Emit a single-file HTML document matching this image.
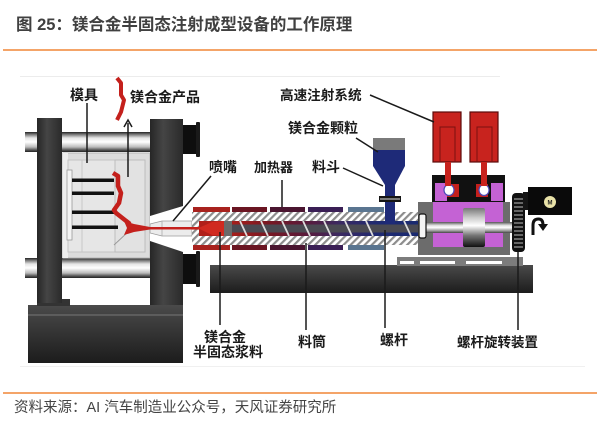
<!DOCTYPE html>
<html><head><meta charset="utf-8">
<style>
html,body{margin:0;padding:0;background:#fff;width:600px;height:426px;overflow:hidden}
svg{display:block}
text{font-family:"Liberation Sans","Noto Sans CJK SC",sans-serif}
.lb{font-size:14px;font-weight:bold;fill:#1a1a1a}
.ld{stroke:#1a1a1a;stroke-width:1.5;fill:none}
</style></head><body>
<svg width="600" height="426" viewBox="0 0 600 426" xmlns="http://www.w3.org/2000/svg">
<defs>
<pattern id="hatch" width="5" height="5" patternUnits="userSpaceOnUse" patternTransform="rotate(45)">
<rect width="5" height="5" fill="#fff"/><rect width="2.2" height="5" fill="#8c8c8c"/></pattern>
<linearGradient id="tie" x1="0" y1="0" x2="0" y2="1">
<stop offset="0" stop-color="#222"/><stop offset="0.12" stop-color="#777"/><stop offset="0.3" stop-color="#e6e6e6"/><stop offset="0.5" stop-color="#fff"/><stop offset="0.75" stop-color="#bbb"/><stop offset="0.9" stop-color="#555"/><stop offset="1" stop-color="#222"/></linearGradient>
<linearGradient id="base" x1="0" y1="0" x2="0" y2="1">
<stop offset="0" stop-color="#4a4a4a"/><stop offset="0.5" stop-color="#333"/><stop offset="1" stop-color="#1c1c1c"/></linearGradient>
<linearGradient id="plat" x1="0" y1="0" x2="1" y2="0">
<stop offset="0" stop-color="#262626"/><stop offset="0.4" stop-color="#454545"/><stop offset="1" stop-color="#2a2a2a"/></linearGradient>
<linearGradient id="shaft" x1="0" y1="0" x2="0" y2="1">
<stop offset="0" stop-color="#555"/><stop offset="0.3" stop-color="#ddd"/><stop offset="0.5" stop-color="#fff"/><stop offset="0.8" stop-color="#999"/><stop offset="1" stop-color="#444"/></linearGradient>
<linearGradient id="drum" x1="0" y1="0" x2="0" y2="1">
<stop offset="0" stop-color="#777"/><stop offset="0.25" stop-color="#ccc"/><stop offset="0.45" stop-color="#fff"/><stop offset="0.7" stop-color="#777"/><stop offset="1" stop-color="#111"/></linearGradient>
<linearGradient id="bore" gradientUnits="userSpaceOnUse" x1="224" y1="0" x2="418" y2="0">
<stop offset="0" stop-color="#b0201a"/><stop offset="0.22" stop-color="#7a1822"/><stop offset="0.42" stop-color="#5a1a3a"/><stop offset="0.6" stop-color="#3a2a62"/><stop offset="0.8" stop-color="#1e2a72"/><stop offset="1" stop-color="#1a2a70"/></linearGradient>
</defs>

<!-- title -->
<text x="16" y="30" font-size="16.5" font-weight="bold" fill="#404040">图 25：镁合金半固态注射成型设备的工作原理</text>
<rect x="3" y="49" width="594" height="2" fill="#f4a468"/>

<!-- faint frame lines -->
<line x1="20" y1="76.5" x2="500" y2="76.5" stroke="#ececec" stroke-width="1"/>
<line x1="20" y1="366.5" x2="585" y2="366.5" stroke="#f0f0f0" stroke-width="1"/>

<!-- right base & rails -->
<rect x="210" y="265" width="323" height="28" fill="url(#base)"/>
<rect x="397" y="257" width="126" height="9" fill="#7c7c7c"/>
<rect x="400" y="261" width="14" height="3" fill="#fff"/>
<rect x="420" y="261" width="35" height="3" fill="#fff"/>
<rect x="466" y="261" width="36" height="3" fill="#fff"/>

<!-- left machine base -->
<rect x="28" y="305" width="155" height="58" fill="url(#base)"/>
<line x1="28" y1="315" x2="183" y2="315" stroke="#777" stroke-width="1"/>
<rect x="37" y="299" width="33" height="7" fill="#333"/>

<!-- tie bars -->
<rect x="25" y="132" width="127" height="20" fill="url(#tie)"/>
<rect x="25" y="258" width="127" height="20" fill="url(#tie)"/>

<!-- mold -->
<rect x="63" y="153" width="87" height="105" fill="#dcdcdc" stroke="#b4b4b4"/>
<rect x="63" y="153" width="5" height="105" fill="#eeeeee"/>
<rect x="68" y="160" width="47" height="92" fill="#e6e6e6" stroke="#c4c4c4"/>
<rect x="115" y="160" width="30" height="92" fill="#e2e2e2" stroke="#bdbdbd"/>
<line x1="82" y1="160" x2="82" y2="252" stroke="#c8c8c8"/>
<line x1="114" y1="245" x2="128" y2="232" stroke="#999"/>
<rect x="67" y="170" width="5" height="70" fill="#f4f4f4" stroke="#999" stroke-width="0.8"/>
<rect x="72" y="178.5" width="42" height="3.5" fill="#111"/>
<rect x="72" y="191.5" width="42" height="3.5" fill="#111"/>
<rect x="72" y="210.5" width="42" height="3.5" fill="#111"/>
<rect x="72" y="225.5" width="46" height="3.5" fill="#111"/>
<!-- cavity part -->
<path d="M113 173 L118 176 L118 186 L121 193 L119 203 L114 210 L116 213 L130 224" stroke="#c4201c" stroke-width="4.5" fill="none" stroke-linejoin="round"/>
<polygon points="124,221 134,224 150,227 150,229.5 134,232 124,235 127,228" fill="#c4201c"/>
<!-- ejection arrow -->
<line x1="128" y1="177" x2="128" y2="123" class="ld"/>
<polyline points="124,127 128,120 132,127" class="ld"/>
<!-- product -->
<path d="M117 78 L121 83 L121 95 L124 100 L121 112 L117 120" stroke="#c4201c" stroke-width="4" fill="none" stroke-linejoin="round"/>

<!-- left platen -->
<rect x="37" y="118" width="25" height="185" fill="url(#plat)"/>

<!-- fixed platen -->
<rect x="150" y="119" width="33" height="186" fill="url(#plat)"/>
<polygon points="150,216 183,206 183,252 150,241" fill="#fff"/>
<polygon points="150,224 162,221 192,221 192,236 162,236 150,233" fill="#ececec" stroke="#9a9a9a" stroke-width="0.8"/>
<line x1="162" y1="221" x2="162" y2="236" stroke="#aaa" stroke-width="0.8"/>
<line x1="147" y1="228.3" x2="200" y2="228.3" stroke="#c4201c" stroke-width="2.5"/>
<!-- platen protrusions -->
<rect x="183" y="125" width="14" height="29" fill="#0e0e0e"/>
<rect x="196" y="122" width="4" height="35" rx="1" fill="#1a1a1a"/>
<rect x="183" y="254" width="14" height="30" fill="#0e0e0e"/>
<rect x="196" y="251" width="4" height="36" rx="1" fill="#1a1a1a"/>

<!-- barrel heaters -->
<g>
<rect x="193" y="207" width="37" height="5" fill="#a8221e"/><rect x="193" y="245" width="37" height="5" fill="#a8221e"/>
<rect x="232" y="207" width="35" height="5" fill="#6a1522"/><rect x="232" y="245" width="35" height="5" fill="#6a1522"/>
<rect x="270" y="207" width="35" height="5" fill="#4a1530"/><rect x="270" y="245" width="35" height="5" fill="#4a1530"/>
<rect x="308" y="207" width="35" height="5" fill="#3a1f55"/><rect x="308" y="245" width="35" height="5" fill="#3a1f55"/>
<rect x="348" y="207" width="36" height="5" fill="#5a7590"/><rect x="348" y="245" width="36" height="5" fill="#5a7590"/>
</g>
<!-- barrel body -->
<rect x="192" y="212" width="226" height="9" fill="url(#hatch)"/>
<rect x="192" y="236" width="226" height="9" fill="url(#hatch)"/>
<rect x="192" y="221" width="7" height="15" fill="url(#hatch)"/>
<rect x="199" y="221" width="219" height="15" fill="url(#bore)"/>
<rect x="192" y="227" width="8" height="2.6" fill="#c4201c"/>
<polygon points="198,228.3 212,222 224,221 224,236 212,235" fill="#d02a20"/>
<rect x="224" y="221" width="8" height="15" fill="#6a6a6a"/>
<rect x="232" y="224.5" width="186" height="8" fill="#4a4a52"/>
<g stroke="#dcdcdc" stroke-width="1.8">
<line x1="240" y1="221" x2="247" y2="236"/><line x1="261" y1="221" x2="268" y2="236"/>
<line x1="282" y1="221" x2="289" y2="236"/><line x1="303" y1="221" x2="310" y2="236"/>
<line x1="324" y1="221" x2="331" y2="236"/><line x1="345" y1="221" x2="352" y2="236"/>
<line x1="366" y1="221" x2="373" y2="236"/><line x1="404" y1="221" x2="411" y2="236"/>
</g>

<!-- hopper -->
<rect x="373" y="138" width="32" height="12" fill="#7a7a7a"/>
<polygon points="373,150 405,150 405,166 395,185 385,185 373,166" fill="#1e2a78"/>
<rect x="385" y="184" width="10" height="40" fill="#1e2a78"/>
<rect x="379" y="196" width="22" height="6" fill="#151515"/>
<line x1="380" y1="199" x2="400" y2="199" stroke="#ddd" stroke-width="1"/>

<!-- right unit frame -->
<rect x="418" y="202" width="92" height="53" fill="#6c6c6c"/>
<rect x="433" y="183" width="70" height="64" fill="#c462d4"/>
<rect x="432" y="175" width="73" height="27" fill="#111"/>
<rect x="435" y="183" width="12" height="18" fill="#c462d4"/>
<rect x="491" y="183" width="12" height="18" fill="#c462d4"/>
<rect x="447" y="184" width="12" height="13" fill="#c4201c"/>
<rect x="476" y="184" width="12" height="13" fill="#c4201c"/>
<ellipse cx="449" cy="190" rx="5" ry="5.5" fill="#fff" stroke="#4a4ab8" stroke-width="1.2"/>
<ellipse cx="484" cy="190" rx="5" ry="5.5" fill="#fff" stroke="#4a4ab8" stroke-width="1.2"/>
<!-- red cylinders -->
<rect x="433" y="112" width="28" height="50" fill="#c8231e" stroke="#5a0a0a" stroke-width="1.2"/>
<path d="M440 162 V127 H455 V162" stroke="#7a1010" stroke-width="1" fill="none"/>
<rect x="445" y="162" width="6" height="24" fill="#c8231e"/>
<rect x="470" y="112" width="28" height="50" fill="#c8231e" stroke="#5a0a0a" stroke-width="1.2"/>
<path d="M477 162 V127 H492 V162" stroke="#7a1010" stroke-width="1" fill="none"/>
<rect x="481" y="162" width="6" height="24" fill="#c8231e"/>
<!-- shaft & drum -->
<rect x="423" y="222" width="94" height="11" fill="url(#shaft)"/>
<rect x="463" y="208" width="22" height="39" rx="2" fill="url(#drum)"/>
<rect x="419" y="214" width="7" height="24" rx="2" fill="#f4f4f4" stroke="#111" stroke-width="1.2"/>
<!-- gear -->
<rect x="512" y="193" width="13" height="59" rx="4" fill="#111"/>
<g stroke="#bbb" stroke-width="1">
<line x1="514" y1="199" x2="523" y2="199"/><line x1="514" y1="203" x2="523" y2="203"/><line x1="514" y1="207" x2="523" y2="207"/>
<line x1="514" y1="211" x2="523" y2="211"/><line x1="514" y1="215" x2="523" y2="215"/><line x1="514" y1="219" x2="523" y2="219"/>
<line x1="514" y1="223" x2="523" y2="223"/><line x1="514" y1="227" x2="523" y2="227"/><line x1="514" y1="231" x2="523" y2="231"/>
<line x1="514" y1="235" x2="523" y2="235"/><line x1="514" y1="239" x2="523" y2="239"/><line x1="514" y1="243" x2="523" y2="243"/>
<line x1="514" y1="247" x2="523" y2="247"/>
</g>
<!-- motor -->
<rect x="523" y="192" width="7" height="18" fill="#151515"/>
<rect x="528" y="187" width="44" height="28" fill="#0a0a0a"/>
<circle cx="550" cy="202" r="6" fill="#e9e2a8"/>
<text x="547.5" y="204.5" font-size="6" font-weight="bold" fill="#222">M</text>
<!-- rotation arrow -->
<path d="M533 235 L533 225 Q533 219 538.5 219 Q543 219 543 225" stroke="#111" stroke-width="3" fill="none"/>
<polygon points="538,224 548,224 543,231" fill="#111"/>

<!-- leader lines -->
<line x1="87" y1="103" x2="87" y2="163" class="ld"/>
<line x1="211" y1="176" x2="173" y2="221" class="ld"/>
<line x1="282" y1="180" x2="282" y2="207" class="ld"/>
<line x1="343" y1="168" x2="383" y2="186" class="ld"/>
<line x1="356" y1="138" x2="378" y2="152" class="ld"/>
<line x1="370" y1="95" x2="434" y2="122" class="ld"/>
<line x1="220" y1="232" x2="220" y2="325" class="ld"/>
<line x1="306" y1="243" x2="306" y2="330" class="ld"/>
<line x1="385" y1="230" x2="385" y2="328" class="ld"/>
<line x1="518" y1="252" x2="518" y2="330" class="ld"/>

<!-- labels -->
<text x="70" y="100" class="lb">模具</text>
<text x="130" y="102" class="lb">镁合金产品</text>
<text x="209" y="172" class="lb">喷嘴</text>
<text x="254" y="172" class="lb" style="font-size:13px">加热器</text>
<text x="312" y="172" class="lb">料斗</text>
<text x="288" y="133" class="lb">镁合金颗粒</text>
<text x="280" y="100" class="lb" style="font-size:13.6px">高速注射系统</text>
<text x="204" y="342" class="lb">镁合金</text>
<text x="193" y="357" class="lb">半固态浆料</text>
<text x="298" y="347" class="lb">料筒</text>
<text x="380" y="345" class="lb">螺杆</text>
<text x="457" y="347" class="lb" style="font-size:13.5px">螺杆旋转装置</text>

<!-- source -->
<rect x="3" y="392" width="594" height="2" fill="#f4a468"/>
<text x="14" y="412" font-size="14.5" fill="#444">资料来源：AI 汽车制造业公众号，天风证券研究所</text>
</svg>
</body></html>
